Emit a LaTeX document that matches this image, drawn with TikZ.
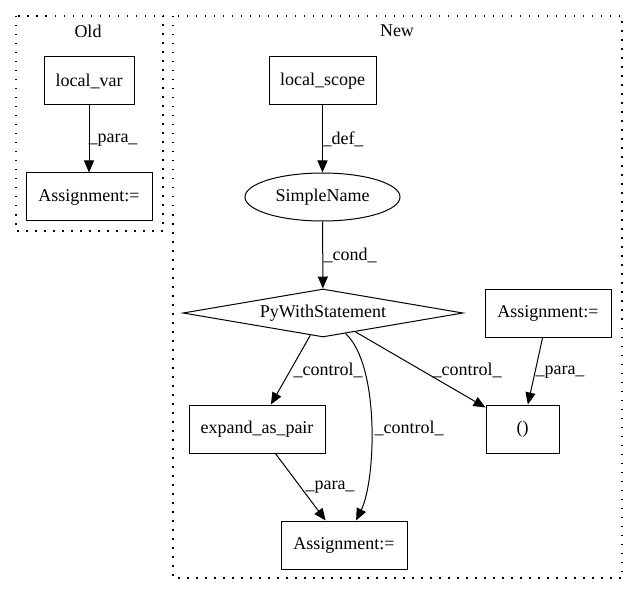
\documentclass[tikz,border=0pt]{standalone}
\usepackage{fontspec}
\setmainfont{Liberation Serif}
\usetikzlibrary{shapes.geometric,arrows.meta}
\begin{document}
\begin{tikzpicture}[x=1pt,y=-1pt,
  every node/.style={font=\fontsize{18}{21}\selectfont, inner sep=0pt},
  box/.style={draw, line width=1pt, rectangle},
  ell/.style={draw, line width=1pt, ellipse, minimum width=155pt, minimum height=48pt},
  dia/.style={draw, line width=1pt, diamond, aspect=5.83, minimum width=280pt, minimum height=48pt},
  edge/.style={draw, line width=1pt, -{Triangle[length=12pt,width=10pt]}},
  cluster/.style={draw, line width=1.2pt, dash pattern=on 1.5pt off 7.5pt},
  lbl/.style={inner sep=0pt}]
\useasboundingbox (0,0) rectangle (637,596);
% clusters
\draw[cluster] (16,16) rectangle (163,231);
\node (oldlbl) at (88,31) {Old};
\draw[cluster] (173,16) rectangle (622,578);
\node (newlbl) at (397,31) {New};
% Old nodes
\node[box, minimum width=90pt, minimum height=48pt] (lv) at (89,81) {local\_var};
\node[box, minimum width=126pt, minimum height=48pt] (aold) at (89,197) {Assignment:=};
% New nodes
\node[box, minimum width=107pt, minimum height=48pt] (ls) at (322.5,81) {local\_scope};
\node[ell] (sn) at (322.5,197) {SimpleName};
\node[dia] (pw) at (323,313) {PyWithStatement};
\node[box, minimum width=126pt, minimum height=48pt] (ar) at (548,313) {Assignment:=};
\node[box, minimum width=136pt, minimum height=48pt] (ex) at (257,429) {expand\_as\_pair};
\node[box, minimum width=73pt, minimum height=48pt] (tp) at (522.5,429) {()};
\node[box, minimum width=126pt, minimum height=48pt] (ab) at (344,545) {Assignment:=};
% edges
\draw[edge] (lv) -- (aold);
\node[lbl] (l1) at (113,140) {\_para\_};
\draw[edge] (ls) -- (sn);
\node[lbl] (l2) at (343,139) {\_def\_};
\draw[edge] (sn) -- (pw);
\node[lbl] (l3) at (350,255) {\_cond\_};
\draw[edge] (pw) -- (ex);
\node[lbl] (l4) at (328,370) {\_control\_};
\draw[edge] (pw) .. controls (380,365) and (376,480) .. (ab);
\node[lbl] (l5) at (409,428) {\_control\_};
\draw[edge] (pw) -- (tp);
\node[lbl] (l6) at (467,370) {\_control\_};
\draw[edge] (ar) -- (tp);
\node[lbl] (l7) at (560,372) {\_para\_};
\draw[edge] (ex) -- (ab);
\node[lbl] (l8) at (330,487) {\_para\_};
\end{tikzpicture}
\end{document}
